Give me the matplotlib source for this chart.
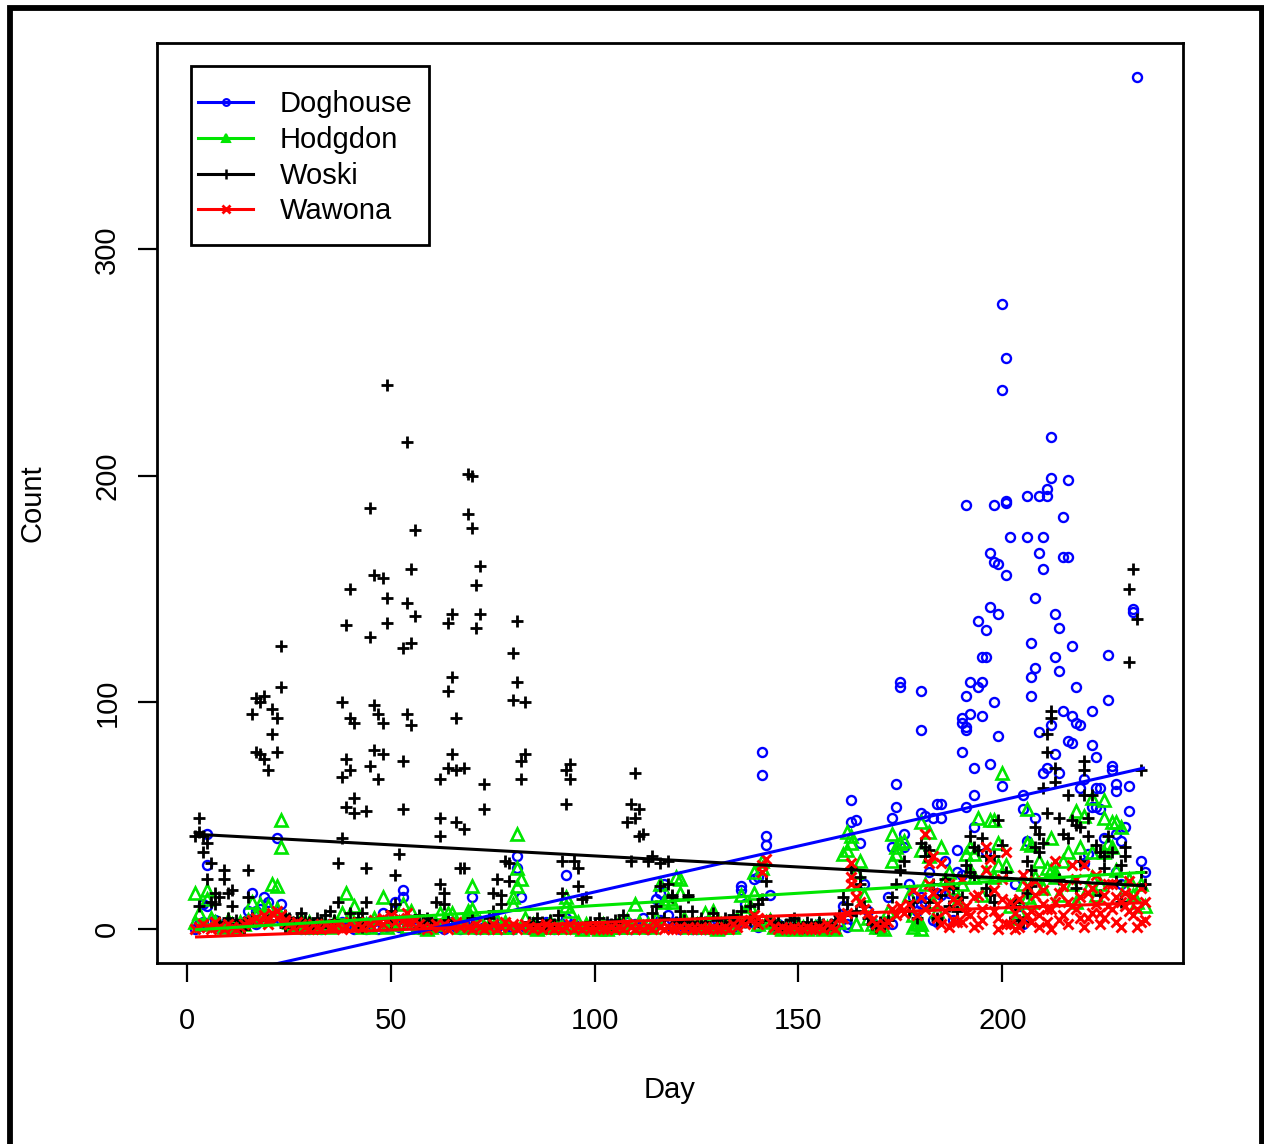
import matplotlib
matplotlib.use("Agg")
import matplotlib.pyplot as plt
from matplotlib.lines import Line2D
from matplotlib.patches import Rectangle

plt.rcParams["font.family"] = ["Liberation Sans", "DejaVu Sans"]

# ---------------------------------------------------------------- data
FIRST_DAY = 2

# one count per day, days 2..235
doghouse_daily = [
    0, 2, 11, 42, 3, 4, 1, 2, 0, 1,
    1, 2, 3, 8, 16, 8, 9, 14, 12, 5,
    40, 11, 3, 1, 1, 2, 0, 1, 0, 2,
    1, 0, 1, 2, 1, 1, 3, 1, 1, 0,
    2, 1, 0, 3, 1, 0, 7, 1, 2, 12,
    1, 17, 2, 4, 1, 0, 1, 0, 2, 1,
    1, 0, 2, 3, 1, 0, 2, 1, 14, 0,
    0, 1, 0, 4, 1, 0, 2, 1, 0, 32,
    14, 1, 0, 2, 1, 0, 3, 1, 0, 1,
    2, 24, 1, 2, 0, 1, 1, 0, 0, 1,
    0, 2, 1, 1, 0, 1, 3, 0, 2, 1,
    5, 0, 1, 13, 16, 2, 6, 1, 3, 0,
    1, 1, 0, 0, 1, 0, 2, 0, 1, 0,
    0, 3, 1, 2, 19, 11, 3, 22, 23, 78,
    41, 15, 1, 2, 0, 1, 1, 0, 0, 1,
    1, 0, 0, 2, 1, 0, 1, 0, 3, 10,
    2, 57, 48, 38, 20, 8, 3, 1, 0, 2,
    14, 49, 64, 109, 42, 20, 14, 8, 105, 50,
    25, 49, 55, 55, 30, 16, 4, 35, 93, 187,
    109, 71, 136, 120, 132, 166, 187, 161, 276, 252,
    173, 20, 10, 59, 191, 126, 146, 191, 173, 194,
    217, 139, 133, 182, 198, 125, 107, 90, 66, 33,
    96, 76, 62, 40, 121, 72, 64, 39, 45, 63,
    141, 376, 30, 25,
]
hodgdon_daily = [
    16, 7, 2, 17, 5, 3, 2, 1, 4, 2,
    1, 3, 2, 4, 12, 6, 11, 8, 10, 20,
    19, 48, 5, 3, 2, 1, 4, 2, 3, 1,
    1, 2, 2, 1, 3, 2, 7, 16, 6, 10,
    3, 1, 2, 1, 5, 2, 14, 1, 4, 2,
    3, 11, 1, 8, 3, 1, 2, 0, 1, 2,
    7, 4, 7, 7, 3, 1, 2, 8, 19, 1,
    3, 1, 2, 1, 4, 1, 3, 1, 14, 42,
    22, 5, 1, 2, 0, 1, 1, 3, 1, 2,
    1, 14, 8, 1, 3, 0, 2, 1, 1, 0,
    2, 0, 1, 1, 3, 1, 4, 1, 11, 3,
    1, 2, 1, 5, 20, 12, 13, 12, 23, 22,
    5, 1, 3, 2, 1, 7, 1, 8, 0, 2,
    1, 3, 1, 5, 15, 8, 10, 16, 2, 27,
    3, 4, 1, 2, 0, 1, 1, 0, 2, 1,
    0, 1, 1, 2, 0, 1, 1, 0, 3, 33,
    43, 41, 25, 30, 15, 5, 2, 1, 1, 0,
    8, 42, 36, 38, 39, 15, 6, 3, 47, 20,
    43, 12, 8, 36, 22, 25, 18, 12, 20, 33,
    36, 33, 49, 15, 25, 48, 48, 38, 69, 28,
    10, 5, 8, 20, 53, 37, 23, 30, 18, 27,
    40, 25, 15, 30, 34, 20, 52, 36, 50, 18,
    58, 15, 20, 57, 38, 47, 47, 45, 18, 22,
    15, 12, 20, 10,
]
woski_daily = [
    41, 49, 34, 38, 29, 16, 3, 26, 16, 17,
    2, 1, 3, 26, 95, 102, 100, 103, 70, 97,
    93, 125, 6, 5, 3, 2, 7, 4, 3, 2,
    5, 3, 6, 8, 4, 29, 100, 134, 150, 91,
    5, 7, 52, 186, 156, 95, 155, 240, 8, 24,
    33, 124, 215, 159, 176, 6, 3, 5, 2, 12,
    66, 16, 135, 139, 93, 27, 71, 201, 200, 152,
    160, 64, 5, 16, 22, 15, 30, 29, 122, 136,
    74, 100, 3, 2, 5, 3, 1, 4, 2, 6,
    30, 70, 73, 30, 27, 13, 14, 3, 2, 5,
    1, 3, 2, 4, 3, 6, 47, 55, 69, 53,
    42, 30, 32, 10, 29, 5, 30, 15, 3, 8,
    4, 15, 8, 2, 5, 3, 1, 7, 4, 2,
    5, 3, 6, 4, 8, 3, 10, 5, 11, 13,
    21, 4, 2, 3, 1, 2, 4, 5, 2, 1,
    3, 2, 1, 3, 2, 1, 2, 4, 6, 14,
    11, 27, 8, 23, 10, 5, 2, 1, 3, 2,
    4, 14, 20, 26, 30, 8, 12, 5, 38, 36,
    35, 20, 5, 15, 22, 10, 18, 8, 14, 28,
    41, 36, 35, 40, 32, 15, 32, 48, 37, 25,
    3, 10, 4, 3, 30, 26, 45, 42, 62, 86,
    96, 71, 49, 42, 59, 48, 46, 30, 74, 49,
    59, 37, 34, 32, 41, 34, 21, 28, 36, 150,
    159, 137, 70, 20,
]
wawona_daily = [
    0, 1, 2, 1, 0, 3, 1, 0, 2, 1,
    0, 1, 2, 3, 4, 5, 3, 6, 4, 7,
    5, 6, 4, 2, 1, 3, 2, 1, 0, 2,
    1, 0, 2, 1, 1, 2, 0, 1, 3, 1,
    2, 1, 3, 2, 4, 3, 5, 4, 6, 3,
    5, 4, 7, 3, 4, 2, 1, 0, 1, 2,
    1, 2, 0, 1, 3, 1, 2, 1, 0, 2,
    1, 0, 1, 2, 0, 1, 3, 1, 2, 0,
    1, 2, 1, 0, 1, 0, 2, 1, 0, 1,
    0, 1, 2, 0, 1, 0, 1, 0, 0, 1,
    0, 0, 1, 0, 1, 0, 2, 1, 0, 1,
    0, 1, 0, 2, 1, 0, 1, 0, 0, 1,
    0, 1, 0, 0, 1, 0, 0, 1, 0, 0,
    1, 0, 2, 1, 3, 2, 4, 6, 5, 28,
    31, 3, 1, 0, 1, 0, 0, 1, 0, 0,
    1, 0, 0, 1, 0, 2, 1, 0, 5, 5,
    7, 29, 18, 12, 9, 7, 4, 2, 1, 2,
    3, 9, 6, 10, 7, 11, 17, 6, 14, 42,
    29, 16, 11, 29, 8, 20, 4, 12, 3, 10,
    6, 14, 2, 9, 36, 31, 17, 5, 22, 34,
    2, 0, 13, 4, 19, 8, 15, 6, 11, 3,
    9, 30, 16, 6, 12, 28, 9, 14, 28, 5,
    18, 11, 7, 15, 10, 20, 3, 12, 16, 8,
    14, 1, 3, 12,
]

# additional counts on days with more than one observation: (day, count)
doghouse_extra = [
    (5, 28), (5, 10), (4, 3), (16, 3), (17, 2), (23, 4), (51, 3), (53, 14),
    (81, 27), (93, 5), (116, 4), (117, 20), (136, 17), (140, 1), (141, 68),
    (142, 37), (163, 47), (162, 1), (173, 36), (173, 2), (174, 54), (175, 107),
    (176, 36), (180, 88), (180, 51), (180, 14), (180, 11), (181, 12), (183, 4),
    (184, 16), (184, 3), (185, 49), (185, 15), (189, 25), (190, 91), (190, 78),
    (190, 24), (191, 103), (191, 89), (191, 88), (191, 54), (192, 95), (193, 59),
    (193, 45), (194, 107), (195, 109), (195, 94), (196, 120), (196, 34),
    (197, 142), (197, 73), (198, 162), (198, 100), (199, 139), (199, 85),
    (200, 238), (200, 63), (201, 189), (201, 188), (201, 156), (205, 53),
    (205, 2), (206, 173), (206, 39), (207, 111), (207, 103), (208, 115),
    (208, 49), (209, 166), (209, 87), (210, 159), (210, 69), (211, 191),
    (211, 71), (212, 199), (212, 90), (213, 120), (213, 77), (214, 114),
    (214, 69), (215, 164), (215, 96), (216, 164), (216, 83), (217, 94),
    (217, 82), (218, 91), (219, 62), (220, 29), (222, 81), (222, 54), (223, 62),
    (223, 54), (224, 53), (226, 101), (227, 70), (228, 61), (228, 42),
    (228, 25), (229, 20), (230, 14), (231, 52), (232, 140),
]
hodgdon_extra = [
    (2, 3), (5, 13), (22, 9), (23, 36), (81, 27), (81, 19), (80, 11), (69, 7),
    (70, 9), (93, 10), (121, 16), (139, 25), (141, 30), (162, 35), (163, 38),
    (173, 30), (174, 33), (180, 35), (180, 2), (180, 0), (182, 32), (192, 26),
    (193, 23), (198, 23), (199, 28), (206, 38), (206, 14), (207, 12), (212, 26),
    (213, 23), (218, 12), (222, 34), (222, 23), (225, 49), (225, 34), (227, 36),
    (228, 26), (164, 2), (178, 1), (179, 2),
]
woski_extra = [
    (3, 43), (4, 41), (5, 22), (6, 12), (7, 11), (9, 22), (10, 5), (3, 10),
    (8, 14), (11, 10), (15, 14), (16, 5), (17, 78), (18, 77), (19, 75), (20, 4),
    (21, 86), (22, 78), (23, 107), (37, 12), (38, 67), (38, 40), (39, 75),
    (39, 54), (40, 93), (40, 70), (40, 7), (41, 58), (41, 51), (44, 27),
    (44, 12), (45, 129), (45, 72), (46, 99), (46, 79), (47, 66), (48, 91),
    (48, 77), (49, 146), (49, 135), (51, 11), (53, 74), (53, 53), (54, 144),
    (54, 95), (55, 126), (55, 90), (56, 138), (62, 49), (62, 41), (62, 20),
    (63, 11), (64, 105), (64, 71), (65, 111), (65, 77), (66, 70), (66, 47),
    (68, 44), (68, 27), (69, 183), (70, 177), (71, 133), (72, 139), (73, 53),
    (64, 4), (70, 5), (75, 8), (77, 11), (79, 21), (80, 101), (81, 109),
    (82, 66), (83, 77), (92, 16), (93, 55), (94, 66), (96, 19), (109, 30),
    (110, 49), (111, 41), (114, 7), (116, 19), (118, 20), (119, 14), (121, 3),
    (123, 14), (124, 3), (138, 4), (140, 3), (165, 20), (163, 6), (181, 32),
    (182, 12), (184, 4), (192, 25), (193, 23), (196, 18), (198, 12), (203, 12),
    (206, 16), (207, 19), (208, 36), (209, 34), (210, 38), (211, 78), (211, 51),
    (212, 93), (213, 65), (214, 22), (216, 40), (218, 18), (219, 45), (220, 70),
    (220, 59), (221, 41), (224, 15), (225, 27), (229, 12), (230, 32),
    (231, 118), (234, 25), (12, 4), (14, 0), (24, 1), (27, 5), (33, 1), (36, 2),
    (43, 1), (50, 3), (57, 1), (60, 4),
]
wawona_extra = [
    (22, 8), (24, 3), (20, 2), (48, 2), (54, 3), (140, 2), (141, 25), (163, 23),
    (163, 20), (164, 14), (181, 9), (182, 20), (183, 32), (183, 16), (184, 5),
    (185, 2), (186, 18), (187, 1), (188, 13), (189, 3), (190, 22), (191, 7),
    (193, 1), (194, 15), (195, 4), (196, 26), (198, 8), (199, 0), (200, 13),
    (201, 2), (202, 12), (203, 7), (204, 1), (205, 24), (206, 6), (207, 3),
    (208, 21), (209, 1), (210, 17), (211, 9), (212, 0), (213, 12), (214, 4),
    (215, 19), (216, 2), (217, 10), (218, 22), (219, 5), (220, 1), (221, 16),
    (222, 7), (223, 24), (224, 2), (225, 5), (226, 20), (227, 9), (228, 14),
    (229, 1), (230, 10), (231, 21), (232, 6), (233, 9), (234, 18), (235, 4),
]

# least-squares trend lines per site: (intercept, slope), drawn over the day range
fit_day_range = [2, 235]
doghouse_fit = (-24.3, 0.406)
hodgdon_fit = (-0.6, 0.109)
woski_fit = (42.0, -0.0977)
wawona_fit = (-3.7, 0.065)

site_names = ["Doghouse", "Hodgdon", "Woski", "Wawona"]
x_ticks = [0, 50, 100, 150, 200]
y_ticks = [0, 100, 200, 300]

for arr in (doghouse_daily, hodgdon_daily, woski_daily, wawona_daily):
    assert len(arr) == 234, len(arr)

# ---------------------------------------------------------------- helpers
W, H = 1264, 1144


def fx(px):
    return px / W


def fy(py):
    return 1 - py / H


def series(daily, extra):
    days = [FIRST_DAY + i for i in range(len(daily))] + [d for d, _ in extra]
    counts = list(daily) + [c for _, c in extra]
    return days, counts


# ---------------------------------------------------------------- figure
fig = plt.figure(figsize=(W / 100, H / 100), dpi=100)
fig.patch.set_facecolor("white")

ax_l, ax_r, ax_t, ax_b = 157, 1183, 43, 963
ax = fig.add_axes([fx(ax_l), fy(ax_b), fx(ax_r - ax_l), (ax_b - ax_t) / H])

BLUE, GREEN, BLACK, RED = "#0000ff", "#00e600", "#000000", "#ff0000"
styles = [
    dict(marker="o", ms=6.5, mfc="none", mec=BLUE, mew=1.7),
    dict(marker="^", ms=8.0, mfc="none", mec=GREEN, mew=1.9),
    dict(marker="+", ms=9.3, mec=BLACK, mew=2.0),
    dict(marker="x", ms=6.8, mec=RED, mew=2.1),
]
data = [
    series(doghouse_daily, doghouse_extra),
    series(hodgdon_daily, hodgdon_extra),
    series(woski_daily, woski_extra),
    series(wawona_daily, wawona_extra),
]
for (days, counts), st in zip(data, styles):
    ax.plot(days, counts, linestyle="none", **st)

for (b0, b1), col in zip([doghouse_fit, hodgdon_fit, woski_fit, wawona_fit],
                         [BLUE, GREEN, BLACK, RED]):
    ys = [b0 + b1 * d for d in fit_day_range]
    ax.plot(fit_day_range, ys, color=col, lw=2.2, solid_capstyle="butt")

ax.set_xlim(-7.32, 244.32)
ax.set_ylim(-15.04, 391.04)

for sp in ax.spines.values():
    sp.set_linewidth(2.0)

FS = 21
ax.set_xticks(x_ticks)
ax.set_xticklabels([str(t) for t in x_ticks], fontsize=FS)
ax.set_yticks(y_ticks)
ax.set_yticklabels([str(t) for t in y_ticks], fontsize=FS, rotation=90, va="center")
ax.tick_params(axis="both", direction="out", length=13.7, width=1.6)
ax.tick_params(axis="x", pad=18)
ax.tick_params(axis="y", pad=12)

ax.set_xlabel("Day", fontsize=FS)
ax.xaxis.label.set_va("center")
ax.xaxis.set_label_coords(0.5, (ax_b - 1090) / (ax_b - ax_t))
ax.set_ylabel("Count", fontsize=FS)
ax.yaxis.label.set_va("center")
ax.yaxis.set_label_coords((33 - ax_l) / (ax_r - ax_l), 0.5)

# legend box
lg_l, lg_r, lg_t, lg_b = 191, 429, 66, 245
fig.patches.append(Rectangle((fx(lg_l), fy(lg_b)), fx(lg_r - lg_l), (lg_b - lg_t) / H,
                             transform=fig.transFigure, fill=False, ec="black", lw=2.0))
row_y = [102, 138, 174, 209]
leg_marker = [
    dict(marker="o", ms=4.8, mfc="none", mec=BLUE, mew=1.6),
    dict(marker="^", ms=6.2, mfc=GREEN, mec=GREEN, mew=1.5),
    dict(marker="|", ms=7.5, mec=BLACK, mew=1.8),
    dict(marker="x", ms=5.2, mec=RED, mew=2.0),
]
for name, yy, col, mk in zip(site_names, row_y, [BLUE, GREEN, BLACK, RED], leg_marker):
    fig.lines.append(Line2D([fx(198), fx(253)], [fy(yy), fy(yy)], transform=fig.transFigure,
                            color=col, lw=2.2))
    fig.lines.append(Line2D([fx(226)], [fy(yy)], transform=fig.transFigure,
                            linestyle="none", **mk))
    fig.text(fx(280), fy(yy + 2), name, fontsize=FS, ha="left", va="center")

# outer frame around the whole graphic
fig.patches.append(Rectangle((fx(9.5), -0.05), fx(1261.5 - 9.5), fy(8) + 0.05,
                             transform=fig.transFigure, fill=False, ec="black", lw=4.2))

fig.savefig("out.png", dpi=100)
